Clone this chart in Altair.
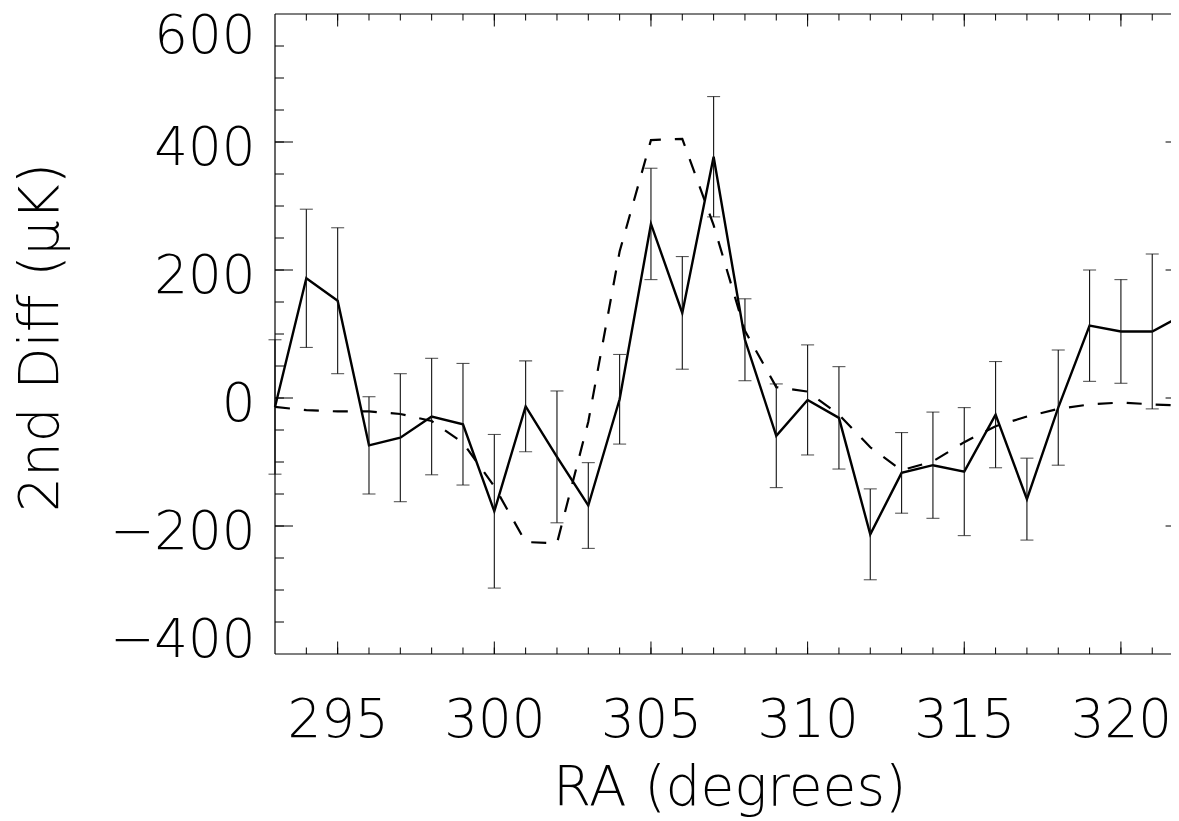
import altair as alt
import pandas as pd

# ---- data ----
ra = list(range(293, 323))
diff = [-14, 187, 152, -74, -62, -29, -41, -177, -13, -92,
        -168, -2, 272, 133, 377, 91, -59, -3, -31, -213,
        -117, -105, -115, -26, -158, -15, 113, 104, 104, 130]
err = [105, 108, 114, 76, 100, 91, 95, 120, 71, 103,
       67, 70, 87, 88, 94, 64, 81, 86, 80, 71,
       63, 83, 100, 83, 64, 90, 87, 81, 121, 95]
model = [-14, -19, -21, -21, -25, -36, -70, -138, -225, -227,
         -37, 229, 403, 405, 270, 105, 17, 10, -26, -77,
         -113, -99, -69, -44, -29, -17, -10, -7, -10, -12]

x_labels = [295, 300, 305, 310, 315, 320]
y_labels = [-400, -200, 0, 200, 400, 600]
x_minor = list(range(294, 322))
x_major = [295, 300, 305, 310, 315, 320]
y_minor = list(range(-350, 600, 50))
y_major = [-200, 0, 200, 400]

# ---- styling ----
FONT = "DejaVu Sans"
FW = 200
FS = 53
TFS = 55
W, H = 896, 640
PX_PER_DEG = 31.33
XDOM = [293, 293 + W / PX_PER_DEG]
XR = (322 - 293) * PX_PER_DEG  # position of the (cut-off) right frame

xs = alt.Scale(domain=XDOM, nice=False, zero=False)
ys = alt.Scale(domain=[-400, 600], nice=False, zero=False)

df = pd.DataFrame({"ra": ra, "diff": diff, "err": err, "model": model})
df["lo"] = df["diff"] - df["err"]
df["hi"] = df["diff"] + df["err"]

x_axis = alt.Axis(values=x_labels, ticks=False, tickSize=0, domain=False, grid=False,
                  labelFont=FONT, labelFontSize=FS, labelFontWeight=FW, labelColor="#000",
                  labelPadding=40, format="d", labelFlush=False,
                  title="RA (degrees)", titleFont=FONT, titleFontSize=TFS, titleFontWeight=FW,
                  titleColor="#000", titleX=(XR) / 2, titleY=150, titleBaseline="alphabetic")
y_axis = alt.Axis(values=y_labels, ticks=False, tickSize=0, domain=False, grid=False,
                  labelFont=FONT, labelFontSize=FS, labelFontWeight=FW, labelColor="#000",
                  labelPadding=20, labelFlush=False, labelBaseline="middle",
                  labelOffset=alt.expr("datum.value == 600 ? 22 : (datum.value == -400 ? -14 : 6)"),
                  format="d",
                  title="2nd Diff (μK)", titleFont=FONT, titleFontSize=TFS, titleFontWeight=FW,
                  titleColor="#000", titleX=-218, titleY=H / 2 + 3, titleAlign="center",
                  titleBaseline="alphabetic")


def X(field):
    return alt.X(f"{field}:Q", scale=xs, axis=x_axis)


def Y(field):
    return alt.Y(f"{field}:Q", scale=ys, axis=y_axis)


base = alt.Chart(df)

err_rules = base.mark_rule(color="#111", strokeWidth=1.1).encode(
    x=X("ra"), y=Y("lo"), y2="hi:Q")
cap_lo = base.mark_tick(orient="horizontal", size=13, thickness=1.1, color="#111").encode(
    x=X("ra"), y=Y("lo"))
cap_hi = base.mark_tick(orient="horizontal", size=13, thickness=1.1, color="#111").encode(
    x=X("ra"), y=Y("hi"))
dashed = base.mark_line(color="#000", strokeWidth=2.2, strokeDash=[15, 14]).encode(
    x=X("ra"), y=Y("model"))
solid = base.mark_line(color="#000", strokeWidth=2.4).encode(
    x=X("ra"), y=Y("diff"))


def xticks(vals, length, top):
    d = pd.DataFrame({"v": vals})
    y0 = 0 if top else H
    y1 = length if top else H - length
    return alt.Chart(d).mark_rule(color="#000", strokeWidth=1).encode(
        x=X("v"), y=alt.value(y0), y2=alt.value(y1))


def yticks(vals, length, right):
    d = pd.DataFrame({"v": vals})
    x0 = XR if right else 0
    x1 = XR - length if right else length
    return alt.Chart(d).mark_rule(color="#000", strokeWidth=1).encode(
        y=Y("v"), x=alt.value(x0), x2=alt.value(x1))


one = pd.DataFrame({"a": [0]})
frame_left = alt.Chart(one).mark_rule(color="#000", strokeWidth=1.2).encode(
    x=alt.value(0), y=alt.value(0), y2=alt.value(H))
frame_top = alt.Chart(one).mark_rule(color="#000", strokeWidth=1.2).encode(
    x=alt.value(0), x2=alt.value(XR), y=alt.value(0))
frame_bottom = alt.Chart(one).mark_rule(color="#000", strokeWidth=1.2).encode(
    x=alt.value(0), x2=alt.value(XR), y=alt.value(H))

layers = [
    solid, dashed, err_rules, cap_lo, cap_hi,
    xticks(x_minor, 6.5, False), xticks(x_major, 12.5, False),
    xticks(x_minor, 6.5, True), xticks(x_major, 12.5, True),
    yticks(y_minor, 9, False), yticks(y_major, 18, False),
    yticks(y_minor, 9, True), yticks(y_major, 18, True),
    frame_left, frame_top, frame_bottom,
]

chart = alt.layer(*layers).properties(
    width=W, height=H,
    padding={"left": 267, "top": 6, "right": 0, "bottom": 166},
    autosize=alt.AutoSizeParams(type="none"),
    background="white",
).configure_view(stroke=None)

chart.save("out.html", embed_options={"renderer": "svg", "actions": False})
